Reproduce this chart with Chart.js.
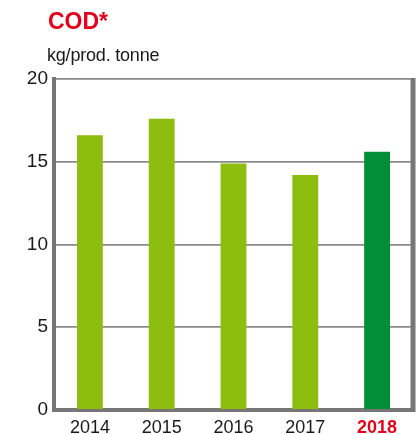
<!DOCTYPE html>
<html>
<head>
<meta charset="utf-8">
<script src="https://cdn.jsdelivr.net/npm/chart.js@4.4.1/dist/chart.umd.min.js"></script>
<style>
  html, body { margin: 0; padding: 0; background: #ffffff; }
  #wrap { position: relative; width: 420px; height: 434px; overflow: hidden; }
  #chart { position: absolute; left: 0; top: 0; }
  .title {
    position: absolute; left: 48px; top: 8px;
    font-family: "Liberation Sans", Arial, sans-serif;
    font-weight: bold; font-size: 23px; color: #e3001b; line-height: 26px;
  }
  .unit {
    position: absolute; left: 47px; top: 45px;
    font-family: "Liberation Sans", Arial, sans-serif;
    font-size: 18px; color: #1a1a1a; line-height: 20px; letter-spacing: -0.2px;
  }
</style>
</head>
<body>
<div id="wrap">
  <canvas id="chart" width="420" height="434"></canvas>
  <div class="title">COD*</div>
  <div class="unit">kg/prod. tonne</div>
</div>
<script>
// COD discharge per produced tonne, by year
const years = ["2014", "2015", "2016", "2017", "2018"];
const codValues = [16.6, 17.6, 14.9, 14.2, 15.6];
const yTicks = [0, 5, 10, 15, 20];

const LIGHT_GREEN = "#8dbd0e";
const DARK_GREEN = "#008f36";
const RED = "#e3001b";
const AXIS_GREY = "#777777";

const barColors = years.map((y, i) => i === years.length - 1 ? DARK_GREEN : LIGHT_GREEN);

// Thick frame line on the right edge of the plot area
const rightFrame = {
  id: "rightFrame",
  afterDraw(chart) {
    const { ctx, chartArea } = chart;
    ctx.save();
    ctx.strokeStyle = AXIS_GREY;
    ctx.lineWidth = 5;
    ctx.beginPath();
    ctx.moveTo(chartArea.right, chartArea.top - 1);
    ctx.lineTo(chartArea.right, chartArea.bottom + 2);
    ctx.stroke();
    ctx.restore();
  }
};

new Chart(document.getElementById("chart"), {
  type: "bar",
  data: {
    labels: years,
    datasets: [{
      data: codValues,
      backgroundColor: barColors,
      borderWidth: 0,
      categoryPercentage: 1,
      barPercentage: 0.36
    }]
  },
  options: {
    responsive: false,
    animation: false,
    devicePixelRatio: 1,
    layout: { padding: { top: 79, right: 7, left: 0, bottom: 0 } },
    plugins: { legend: { display: false }, tooltip: { enabled: false } },
    scales: {
      x: {
        grid: { display: false, drawTicks: false },
        border: { display: true, color: AXIS_GREY, width: 4 },
        ticks: {
          padding: 7,
          color: (ctx) => ctx.index === years.length - 1 ? RED : "#1a1a1a",
          font: (ctx) => ({
            family: "'Liberation Sans', Arial, sans-serif",
            size: 18,
            weight: ctx.index === years.length - 1 ? "bold" : "normal"
          })
        },
        afterFit(scale) { scale.height = 24; }
      },
      y: {
        min: 0,
        max: 20,
        afterBuildTicks(scale) { scale.ticks = yTicks.map(v => ({ value: v })); },
        grid: { color: "#8a8a8a", lineWidth: 1.8, drawTicks: false },
        border: { display: true, color: AXIS_GREY, width: 4 },
        ticks: {
          padding: 6,
          color: "#1a1a1a",
          font: { family: "'Liberation Sans', Arial, sans-serif", size: 19 }
        },
        afterFit(scale) { scale.width = 54; }
      }
    }
  },
  plugins: [rightFrame]
});
</script>
</body>
</html>
